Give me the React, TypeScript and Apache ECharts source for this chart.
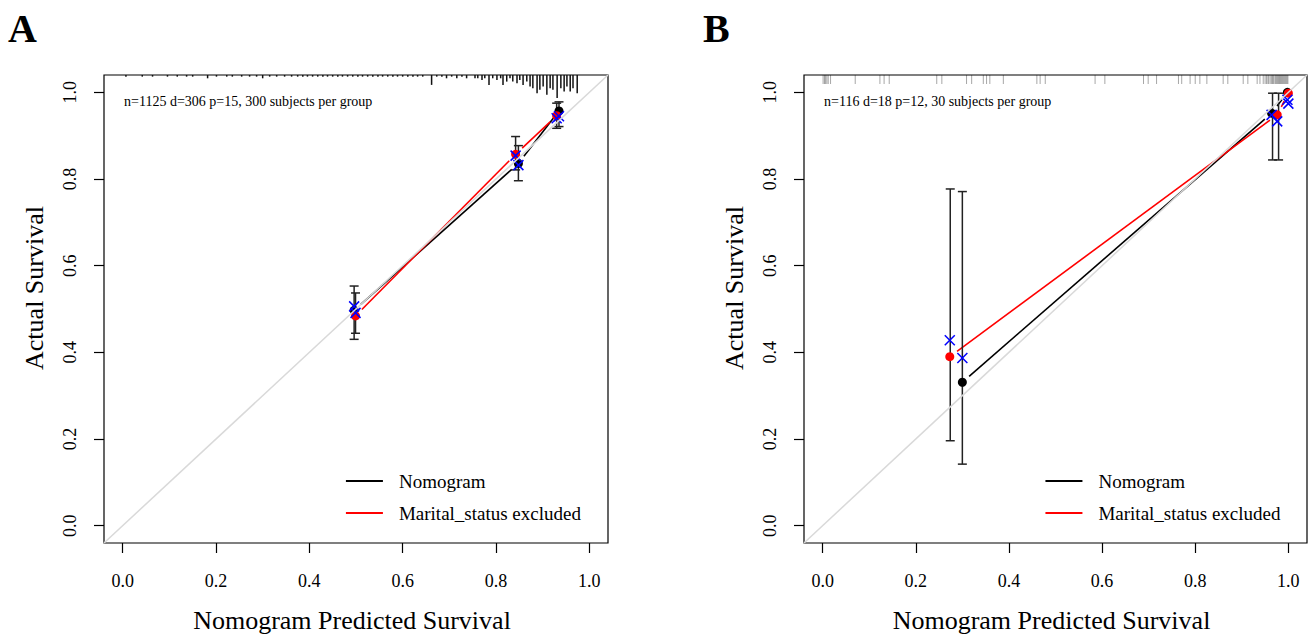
import React, { useEffect, useRef } from "react";
import * as echarts from "echarts";

// ---------- shared axis ticks ----------
const tickValues = [0, 0.2, 0.4, 0.6, 0.8, 1.0];
const axisMin = -0.04;
const axisMax = 1.04;
const xTitle = "Nomogram Predicted Survival";
const yTitle = "Actual Survival";
const legendNames = ["Nomogram", "Marital_status excluded"];

// ---------- Panel A ----------
const aLetter = "A";
const aInfo = "n=1125 d=306 p=15, 300 subjects per group";
const aNomPred = [0.496, 0.848, 0.935];
const aNomObs = [0.497, 0.836, 0.957];
const aNomLow = [0.43, 0.796, 0.921];
const aNomHigh = [0.553, 0.877, 0.978];
const aNomCorr = [0.506, 0.832, 0.945];
const aMarPred = [0.499, 0.842, 0.93];
const aMarObs = [0.484, 0.857, 0.946];
const aMarLow = [0.444, 0.821, 0.917];
const aMarHigh = [0.537, 0.898, 0.975];
const aMarCorr = [0.491, 0.854, 0.94];
const aRugX = [
  0.007, 0.042, 0.064, 0.096, 0.117, 0.137, 0.15, 0.182, 0.201, 0.223, 0.235, 0.255, 0.272, 0.287,
  0.3, 0.315, 0.33, 0.347, 0.362, 0.375, 0.386, 0.396, 0.407, 0.418, 0.429, 0.439, 0.45, 0.461,
  0.471, 0.482, 0.493, 0.504, 0.514, 0.525, 0.536, 0.547, 0.557, 0.568, 0.579, 0.589, 0.6, 0.611,
  0.622, 0.632, 0.643, 0.662, 0.673, 0.684, 0.694, 0.705, 0.716, 0.727, 0.737, 0.755, 0.761, 0.77,
  0.776, 0.785, 0.793, 0.802, 0.81, 0.815, 0.823, 0.83, 0.836, 0.845, 0.851, 0.858, 0.866, 0.873,
  0.879, 0.888, 0.894, 0.901, 0.909, 0.916, 0.922, 0.931, 0.939, 0.946, 0.952, 0.959, 0.965, 0.974,
];
const aRugN = [
  1, 1, 1, 1, 1, 1, 1, 2, 1, 1, 1, 1, 1, 1,
  2, 1, 1, 1, 1, 1, 1, 1, 1, 1, 1, 1, 1, 1,
  1, 1, 1, 1, 1, 1, 1, 1, 1, 1, 1, 1, 1, 1,
  1, 1, 1, 6, 1, 1, 2, 1, 2, 1, 2, 2, 2, 3,
  2, 6, 2, 3, 2, 6, 4, 2, 4, 5, 3, 6, 4, 7,
  8, 11, 9, 7, 12, 8, 9, 14, 8, 10, 7, 10, 8, 11,
];

// ---------- Panel B ----------
const bLetter = "B";
const bInfo = "n=116 d=18 p=12, 30 subjects per group";
const bNomPred = [0.3, 0.964, 0.998];
const bNomObs = [0.331, 0.952, 1.0];
const bNomBarX = [0.3, 0.966];
const bNomLow = [0.142, 0.844];
const bNomHigh = [0.771, 0.998];
const bNomCorr = [0.387, 0.948, 0.983];
const bMarPred = [0.273, 0.976, 1.0];
const bMarObs = [0.39, 0.948, 0.998];
const bMarBarX = [0.274, 0.979];
const bMarLow = [0.196, 0.844];
const bMarHigh = [0.777, 0.998];
const bMarCorr = [0.428, 0.933, 0.974];
const bRugX = [
  0.001, 0.004, 0.006, 0.009, 0.012, 0.017, 0.07, 0.123, 0.132, 0.143, 0.245, 0.256, 0.309, 0.32,
  0.345, 0.352, 0.359, 0.388, 0.46, 0.467, 0.478, 0.585, 0.606, 0.689, 0.699, 0.717, 0.764, 0.771,
  0.789, 0.8, 0.81, 0.825, 0.86, 0.87, 0.903, 0.913, 0.933, 0.939, 0.946, 0.95, 0.953, 0.956, 0.958,
  0.961, 0.964, 0.966, 0.968, 0.971, 0.973, 0.975, 0.977, 0.979, 0.981, 0.983, 0.985, 0.987, 0.989,
  0.991, 0.993, 0.995, 0.997, 0.999,
];

const FONT = "'Liberation Serif', 'Times New Roman', serif";

function zip2(a: number[], b: number[]) {
  return a.map((v, i) => [v, b[i]]);
}
function zip3(a: number[], b: number[], c: number[]) {
  return a.map((v, i) => [v, b[i], c[i]]);
}

function segSeries(gi: number, xs: number[], ys: number[], color: string) {
  const data: number[][] = [];
  for (let i = 0; i < xs.length - 1; i++) data.push([xs[i], ys[i], xs[i + 1], ys[i + 1]]);
  return {
    type: "custom",
    xAxisIndex: gi,
    yAxisIndex: gi,
    silent: true,
    z: 3,
    encode: { x: [0, 2], y: [1, 3] },
    data,
    renderItem: (_p: any, api: any) => {
      const a = api.coord([api.value(0), api.value(1)]);
      const b = api.coord([api.value(2), api.value(3)]);
      const dx = b[0] - a[0];
      const dy = b[1] - a[1];
      const L = Math.hypot(dx, dy);
      const g = 9;
      if (L <= 2 * g) return null;
      const ux = dx / L;
      const uy = dy / L;
      return {
        type: "line",
        shape: { x1: a[0] + ux * g, y1: a[1] + uy * g, x2: b[0] - ux * g, y2: b[1] - uy * g },
        style: { stroke: color, lineWidth: 1.6 },
      };
    },
  };
}

function barSeries(gi: number, xs: number[], lo: number[], hi: number[]) {
  return {
    type: "custom",
    xAxisIndex: gi,
    yAxisIndex: gi,
    silent: true,
    z: 4,
    encode: { x: 0, y: [1, 2] },
    data: zip3(xs, lo, hi),
    renderItem: (_p: any, api: any) => {
      const a = api.coord([api.value(0), api.value(1)]);
      const b = api.coord([api.value(0), api.value(2)]);
      const w = 4.5;
      const st = { stroke: "#222", lineWidth: 1.5 };
      return {
        type: "group",
        children: [
          { type: "line", shape: { x1: a[0], y1: a[1], x2: b[0], y2: b[1] }, style: st },
          { type: "line", shape: { x1: a[0] - w, y1: a[1], x2: a[0] + w, y2: a[1] }, style: st },
          { type: "line", shape: { x1: b[0] - w, y1: b[1], x2: b[0] + w, y2: b[1] }, style: st },
        ],
      };
    },
  };
}

function crossSeries(gi: number, xs: number[], ys: number[]) {
  return {
    type: "custom",
    xAxisIndex: gi,
    yAxisIndex: gi,
    silent: true,
    z: 6,
    encode: { x: 0, y: 1 },
    data: zip2(xs, ys),
    renderItem: (_p: any, api: any) => {
      const c = api.coord([api.value(0), api.value(1)]);
      const r = 5;
      const st = { stroke: "#0000ff", lineWidth: 1.5 };
      return {
        type: "group",
        children: [
          { type: "line", shape: { x1: c[0] - r, y1: c[1] - r, x2: c[0] + r, y2: c[1] + r }, style: st },
          { type: "line", shape: { x1: c[0] - r, y1: c[1] + r, x2: c[0] + r, y2: c[1] - r }, style: st },
        ],
      };
    },
  };
}

function dotSeries(gi: number, xs: number[], ys: number[], color: string) {
  return {
    type: "scatter",
    xAxisIndex: gi,
    yAxisIndex: gi,
    silent: true,
    z: 5,
    symbol: "circle",
    symbolSize: 9,
    itemStyle: { color, opacity: 1 },
    data: zip2(xs, ys),
  };
}

function rugSeries(gi: number, xs: number[], ns: number[] | null, color: string, unit: number, width: number) {
  return {
    type: "custom",
    xAxisIndex: gi,
    yAxisIndex: gi,
    silent: true,
    z: 2,
    encode: { x: 0 },
    data: xs.map((x, i) => [x, ns ? ns[i] : 1]),
    renderItem: (_p: any, api: any) => {
      const c = api.coord([api.value(0), axisMax]);
      const len = api.value(1) * unit;
      return {
        type: "line",
        shape: { x1: c[0], y1: c[1], x2: c[0], y2: c[1] + len },
        style: { stroke: color, lineWidth: width },
      };
    },
  };
}

function diagSeries(gi: number) {
  return {
    type: "line",
    xAxisIndex: gi,
    yAxisIndex: gi,
    silent: true,
    z: 7,
    symbol: "none",
    lineStyle: { color: "#d9d9d9", width: 1.5 },
    data: [
      [axisMin, axisMin],
      [axisMax, axisMax],
    ],
  };
}

function xAxisDef(gi: number) {
  return {
    type: "value",
    gridIndex: gi,
    min: axisMin,
    max: axisMax,
    axisLine: { show: false, onZero: false },
    splitLine: { show: false },
    axisTick: { show: true, length: 10, customValues: tickValues, lineStyle: { color: "#000", width: 1.2 } },
    axisLabel: {
      customValues: tickValues,
      formatter: (v: number) => v.toFixed(1),
      margin: 29,
      fontFamily: FONT,
      fontSize: 18,
      color: "#000",
    },
  };
}
function yAxisDef(gi: number) {
  return {
    type: "value",
    gridIndex: gi,
    min: axisMin,
    max: axisMax,
    axisLine: { show: false, onZero: false },
    splitLine: { show: false },
    axisTick: { show: true, length: 10, customValues: tickValues, lineStyle: { color: "#000", width: 1.2 } },
    axisLabel: {
      customValues: tickValues,
      formatter: (v: number) => v.toFixed(1),
      rotate: 90,
      margin: 25,
      fontFamily: FONT,
      fontSize: 18,
      color: "#000",
    },
  };
}

function panelGraphics(left: number, width: number, letterX: number, letter: string, info: string) {
  const cx = left + width / 2;
  const legX = left + width * 0.48;
  return [
    { type: "text", left: letterX, top: 8, style: { text: letter, font: `bold 40px ${FONT}`, fill: "#000" } },
    { type: "text", left: left + 20, top: 94, style: { text: info, font: `14px ${FONT}`, fill: "#000" } },
    {
      type: "text",
      x: cx - 4,
      y: 620,
      style: { text: xTitle, font: `26px ${FONT}`, fill: "#000", align: "center", verticalAlign: "middle" },
    },
    {
      type: "text",
      x: left - 70,
      y: 288,
      rotation: Math.PI / 2,
      style: { text: yTitle, font: `26px ${FONT}`, fill: "#000", align: "center", verticalAlign: "middle" },
    },
    { type: "line", shape: { x1: legX, y1: 481, x2: legX + 37, y2: 481 }, style: { stroke: "#000", lineWidth: 2 } },
    { type: "line", shape: { x1: legX, y1: 513, x2: legX + 37, y2: 513 }, style: { stroke: "#ff0000", lineWidth: 2 } },
    {
      type: "text",
      x: legX + 53,
      y: 481,
      style: { text: legendNames[0], font: `19px ${FONT}`, fill: "#000", verticalAlign: "middle" },
    },
    {
      type: "text",
      x: legX + 53,
      y: 513,
      style: { text: legendNames[1], font: `19px ${FONT}`, fill: "#000", verticalAlign: "middle" },
    },
  ];
}

export default function App() {
  const ref = useRef<HTMLDivElement>(null);
  useEffect(() => {
    document.body.style.margin = "0";
    if (!ref.current) return;
    const chart = echarts.init(ref.current, undefined, { renderer: "svg" });
    const gA = { left: 104, top: 75, width: 504, height: 468 };
    const gB = { left: 804, top: 75, width: 503, height: 468 };
    const gridStyle = { show: true, borderColor: "#000", borderWidth: 1.2, backgroundColor: "transparent" };
    chart.setOption({
      animation: false,
      backgroundColor: "#fff",
      grid: [
        { ...gA, ...gridStyle },
        { ...gB, ...gridStyle },
      ],
      xAxis: [xAxisDef(0), xAxisDef(1)],
      yAxis: [yAxisDef(0), yAxisDef(1)],
      graphic: [
        ...panelGraphics(gA.left, gA.width, 8, aLetter, aInfo),
        ...panelGraphics(gB.left, gB.width, 703, bLetter, bInfo),
      ],
      series: [
        // Panel A
        rugSeries(0, aRugX, aRugN, "#111", 1.65, 1.5),
        segSeries(0, aNomPred, aNomObs, "#000"),
        barSeries(0, aNomPred, aNomLow, aNomHigh),
        dotSeries(0, aNomPred, aNomObs, "#000"),
        crossSeries(0, aNomPred, aNomCorr),
        segSeries(0, aMarPred, aMarObs, "#ff0000"),
        barSeries(0, aMarPred, aMarLow, aMarHigh),
        dotSeries(0, aMarPred, aMarObs, "#ff0000"),
        crossSeries(0, aMarPred, aMarCorr),
        diagSeries(0),
        // Panel B
        rugSeries(1, bRugX, null, "rgba(0,0,0,0.35)", 9, 1),
        segSeries(1, bNomPred, bNomObs, "#000"),
        barSeries(1, bNomBarX, bNomLow, bNomHigh),
        dotSeries(1, bNomPred, bNomObs, "#000"),
        crossSeries(1, bNomPred, bNomCorr),
        segSeries(1, bMarPred, bMarObs, "#ff0000"),
        barSeries(1, bMarBarX, bMarLow, bMarHigh),
        dotSeries(1, bMarPred, bMarObs, "#ff0000"),
        crossSeries(1, bMarPred, bMarCorr),
        diagSeries(1),
      ],
    });
    return () => chart.dispose();
  }, []);
  return <div ref={ref} style={{ width: 1314, height: 637 }} />;
}
